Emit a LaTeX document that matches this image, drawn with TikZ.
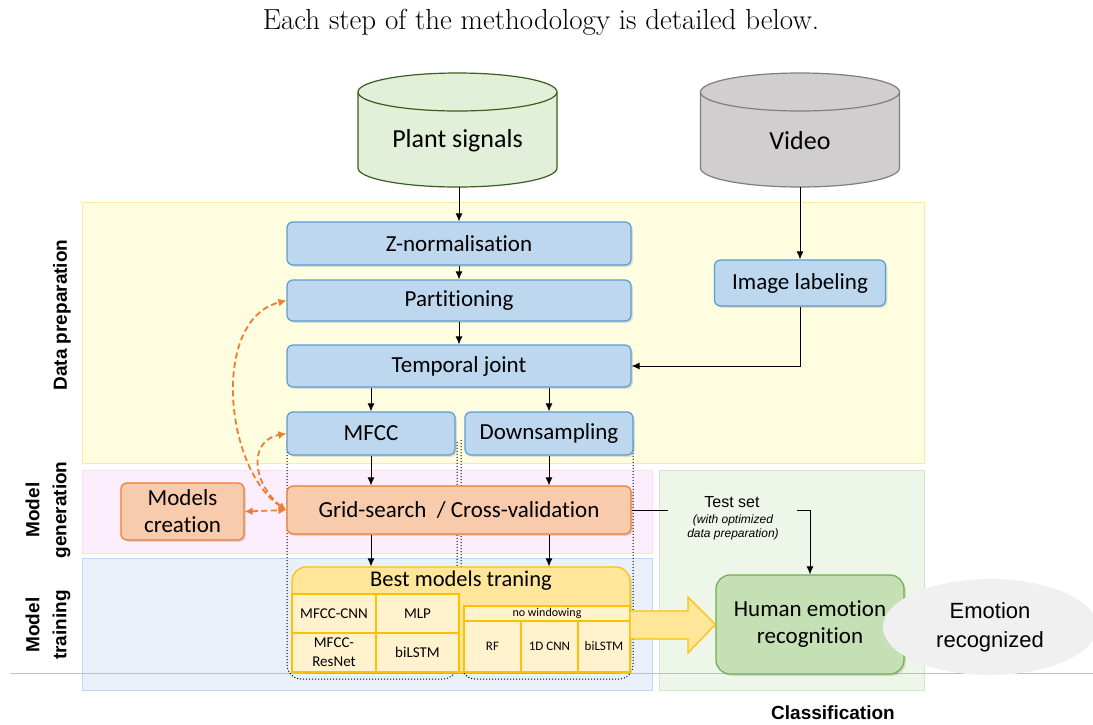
\documentclass[tikz,border=0pt]{standalone}
\usepackage{fontspec}
\newfontfamily\carlito[Ligatures=NoCommon]{Carlito}
\newfontfamily\arial{Liberation Sans}
\usetikzlibrary{arrows.meta,shadows,shapes.geometric}
\definecolor{yelR}{HTML}{FEFDE0}
\definecolor{yelRD}{HTML}{FCE9A6}
\definecolor{pinkR}{HTML}{FDEEFD}
\definecolor{pinkRD}{HTML}{FADDFA}
\definecolor{blueR}{HTML}{E9F0F9}
\definecolor{blueRD}{HTML}{C3D8EE}
\definecolor{greenR}{HTML}{EEF5E9}
\definecolor{greenRD}{HTML}{D5E8CA}
\definecolor{boxblue}{HTML}{BDD7EE}
\definecolor{boxblueD}{HTML}{5B9BD5}
\definecolor{boxor}{HTML}{F8CBAD}
\definecolor{boxorD}{HTML}{ED7D31}
\definecolor{cylG}{HTML}{E2F0D9}
\definecolor{cylGD}{HTML}{3B5E1F}
\definecolor{cylGr}{HTML}{D0CECE}
\definecolor{cylGrD}{HTML}{7F7F7F}
\definecolor{gold}{HTML}{FFC000}
\definecolor{goldF}{HTML}{FFE699}
\definecolor{cellY}{HTML}{FFF2CC}
\definecolor{humG}{HTML}{C5E0B4}
\definecolor{humGD}{HTML}{70AD47}
\definecolor{ellG}{HTML}{F0F0F0}
\definecolor{lineGray}{HTML}{BFBFBF}
\begin{document}
\begin{tikzpicture}[x=1pt,y=-1pt,
  box/.style={rounded corners=6pt, line width=1.2pt, inner sep=0pt, align=center,
    drop shadow={shadow xshift=1.8pt,shadow yshift=-1.8pt,opacity=0.25},
    font=\carlito\fontsize{23}{27}\selectfont},
  bluebox/.style={box, draw=boxblueD, fill=boxblue},
  orangebox/.style={box, draw=boxorD, fill=boxor},
  cell/.style={draw=gold, fill=cellY, line width=1.2pt, inner sep=0pt, align=center,
    font=\carlito\fontsize{15}{18}\selectfont},
  arr/.style={-{Latex[length=8pt,width=7pt]}, line width=1pt, draw=black},
  odash/.style={draw=boxorD, line width=1.8pt, dash pattern=on 6pt off 3.5pt, >={Latex[length=8pt,width=8pt]}},
  side/.style={font=\arial\bfseries\fontsize{19}{27}\selectfont, rotate=90, align=center},
  dotbox/.style={dotted, line width=1pt, rounded corners=14pt},
  cyltext/.style={font=\carlito\fontsize{26}{30}\selectfont},
]
\useasboundingbox (0,0) rectangle (1093,724);
\fill[white] (0,0) rectangle (1093,724);

% title
\node[font=\fontsize{29}{33}\selectfont] (title) at (541,22) {Each step of the methodology is detailed below.};

% regions
\filldraw[fill=yelR, draw=yelRD, line width=1pt] (82,202) rectangle (924,463);
\filldraw[fill=pinkR, draw=pinkRD, line width=1pt] (82,470) rectangle (652,553);
\filldraw[fill=blueR, draw=blueRD, line width=1pt] (82,558) rectangle (652,690);
\filldraw[fill=greenR, draw=greenRD, line width=1pt] (659,470) rectangle (924,690);
\draw[lineGray, line width=0.8pt] (10,673) -- (1093,673);

% side labels
\node[side] (lblprep) at (62,315) {Data preparation};
\node[side] (lblgen) at (48,510) {Model\\generation};
\node[side] (lbltrain) at (48,625) {Model\\training};
\node[font=\arial\bfseries\fontsize{19}{23}\selectfont] (lblclass) at (833,713) {Classification};

% cylinders
\node[minimum width=199pt, minimum height=114pt, inner sep=0pt] (plant) at (457.5,130) {};
\fill[cylG] (358,92) rectangle (557,168);
\fill[cylG] (457.5,168) ellipse[x radius=99.5pt, y radius=19pt];
\draw[cylGD, line width=1.2pt] (358,92) -- (358,168) arc[start angle=180, end angle=360, x radius=99.5pt, y radius=19pt] -- (557,92);
\filldraw[fill=cylG, draw=cylGD, line width=1.2pt] (457.5,92) ellipse[x radius=99.5pt, y radius=19pt];
\node[cyltext] (planttext) at (457.5,141) {Plant signals};

\node[minimum width=199pt, minimum height=114pt, inner sep=0pt] (video) at (800,130) {};
\fill[cylGr] (700.5,92) rectangle (899.5,168);
\fill[cylGr] (800,168) ellipse[x radius=99.5pt, y radius=19pt];
\draw[cylGrD, line width=1.2pt] (700.5,92) -- (700.5,168) arc[start angle=180, end angle=360, x radius=99.5pt, y radius=19pt] -- (899.5,92);
\filldraw[fill=cylGr, draw=cylGrD, line width=1.2pt] (800,92) ellipse[x radius=99.5pt, y radius=19pt];
\node[cyltext] (videotext) at (800,141) {Video};

% dotted groups
\draw[dotbox] (287,440) -- (287,679) -- (457,679) -- (457,440);
\draw[dotbox] (461,440) -- (461,679) -- (633,679) -- (633,440);

% data preparation boxes
\node[bluebox, minimum width=344pt, minimum height=43pt] (znorm) at (459,243.5) {Z-normalisation};
\node[bluebox, minimum width=344pt, minimum height=41pt] (part) at (459,300.5) {Partitioning};
\node[bluebox, minimum width=344pt, minimum height=42pt] (temporal) at (459,366) {Temporal joint};
\node[bluebox, minimum width=168pt, minimum height=43pt] (mfcc) at (371,433.5) {MFCC};
\node[bluebox, minimum width=168pt, minimum height=43pt] (down) at (549,433.5) {Downsampling};
\node[bluebox, minimum width=171pt, minimum height=46pt] (imglab) at (800,283) {Image labeling};

% model generation
\node[orangebox, minimum width=344pt, minimum height=48pt] (grid) at (459,510) {Grid-search\ \ / Cross-validation};
\node[orangebox, minimum width=123pt, minimum height=57pt] (models) at (182.5,511.5) {Models\\creation};

% best models
\node[draw=gold, fill=goldF, line width=1.2pt, rounded corners=14pt, minimum width=338pt, minimum height=105pt, inner sep=0pt,
  drop shadow={shadow xshift=1.8pt,shadow yshift=-1.8pt,opacity=0.25}] (best) at (461,619.5) {};
\node[font=\carlito\fontsize{22.5}{26}\selectfont] (besttitle) at (461,581) {Best models traning};
\node[cell, minimum width=84pt, minimum height=39pt] (c1) at (334,613.5) {MFCC-CNN};
\node[cell, minimum width=83pt, minimum height=39pt] (c2) at (417.5,613.5) {MLP};
\node[cell, minimum width=84pt, minimum height=39pt, font=\carlito\fontsize{15}{19}\selectfont] (c3) at (334,652.5) {MFCC-\\ResNet};
\node[cell, minimum width=83pt, minimum height=39pt] (c4) at (417.5,652.5) {biLSTM};
\node[cell, minimum width=166pt, minimum height=15pt, font=\carlito\fontsize{12}{14}\selectfont] (nowin) at (547,613.5) {no windowing};
\node[cell, minimum width=57pt, minimum height=51pt, font=\carlito\fontsize{13}{15}\selectfont] (rf) at (492.5,646.5) {RF};
\node[cell, minimum width=57pt, minimum height=51pt, font=\carlito\fontsize{13}{15}\selectfont] (cnn1d) at (549.5,646.5) {1D CNN};
\node[cell, minimum width=52pt, minimum height=51pt, font=\carlito\fontsize{13}{15}\selectfont] (bilstm2) at (604,646.5) {biLSTM};

% classification
\node[box, draw=humGD, fill=humG, rounded corners=14pt, minimum width=188pt, minimum height=99pt] (human) at (810,624.5) {Human emotion\\recognition};
\node[ellipse, fill=ellG, minimum width=214pt, minimum height=96pt, inner sep=0pt, align=center,
  font=\arial\fontsize{22}{29}\selectfont] (emotion) at (990,627) {Emotion\\recognized};

% big block arrow
\filldraw[fill=goldF, draw=gold, line width=1.2pt] (best.east |- 0,611) -- (688,611) -- (688,597) -- (human.west) -- (688,653) -- (688,639) -- (best.east |- 0,639);

% test set
\node[font=\arial\fontsize{16}{19}\selectfont] (testset) at (732,502) {Test set};
\node[font=\arial\itshape\fontsize{12}{14}\selectfont, align=center] (testnote) at (733,527) {(with optimized\\data preparation)};
\coordinate (tsA) at (668,510);
\coordinate (tsB) at (797,510);
\draw[line width=1pt] (grid.east) -- (tsA);
\draw[arr] (tsB) -| (human.north);

% black arrows
\draw[arr] (plant.south -| znorm) -- (znorm.north);
\draw[arr] (znorm) -- (part);
\draw[arr] (part) -- (temporal);
\draw[arr] (temporal.south -| mfcc) -- (mfcc.north);
\draw[arr] (temporal.south -| down) -- (down.north);
\draw[arr] (video.south) -- (imglab.north);
\draw[arr] (imglab.south) |- (temporal.east);
\draw[arr] (mfcc.south) -- (grid.north -| mfcc);
\draw[arr] (down.south) -- (grid.north -| down);
\draw[arr] (grid.south -| mfcc) -- (best.north -| mfcc);
\draw[arr] (grid.south -| down) -- (best.north -| down);

% orange dashed arrows
\draw[odash, <->] (grid.west) .. controls (225,470) and (210,320) .. (part.west);
\draw[odash, ->] ([xshift=-6pt,yshift=4pt]grid.west) .. controls (250,480) and (250,440) .. (mfcc.west);
\draw[odash, <->] (models.east) -- (grid.west);
\end{tikzpicture}
\end{document}
